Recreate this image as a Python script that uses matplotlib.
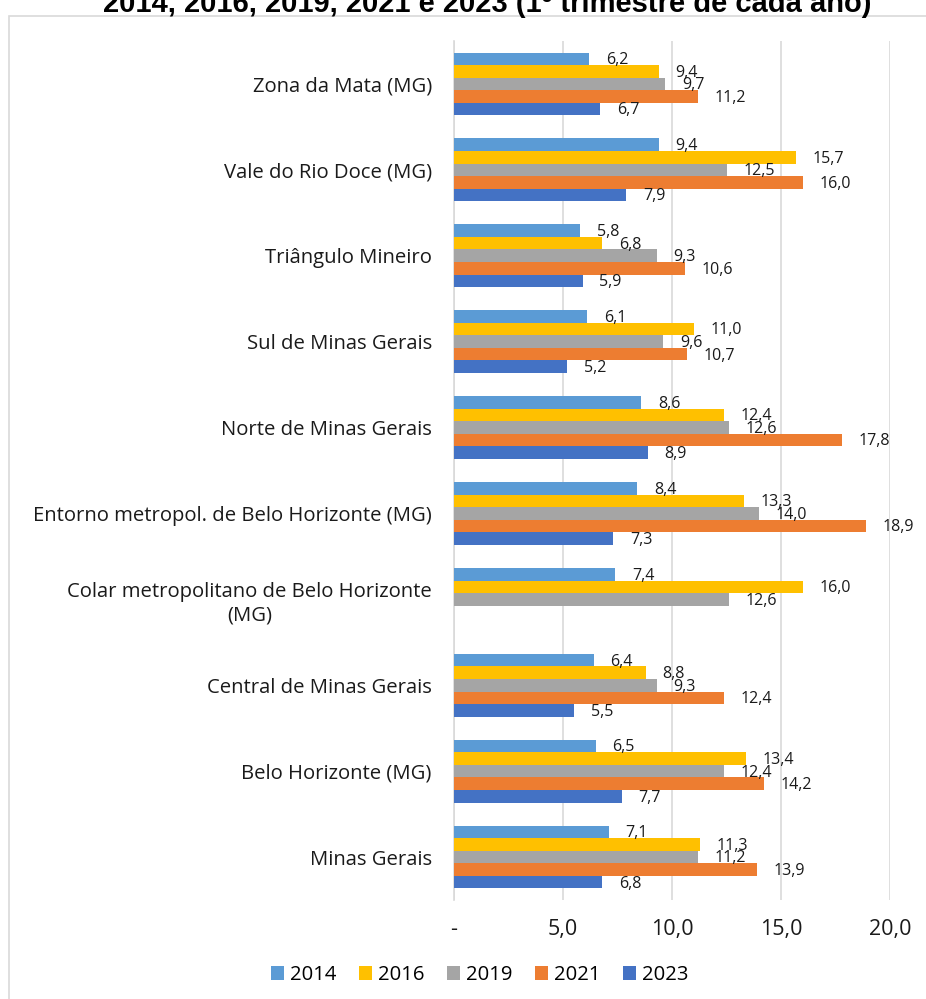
import numpy as np
import matplotlib
matplotlib.use("Agg")
import matplotlib.pyplot as plt
from matplotlib.patches import Patch, Rectangle

plt.rcParams["font.family"] = ["Open Sans", "DejaVu Sans"]

# data
categories = [
    "Zona da Mata (MG)",
    "Vale do Rio Doce (MG)",
    "Triângulo Mineiro",
    "Sul de Minas Gerais",
    "Norte de Minas Gerais",
    "Entorno metropol. de Belo Horizonte (MG)",
    "Colar metropolitano de Belo Horizonte\n(MG)",
    "Central de Minas Gerais",
    "Belo Horizonte (MG)",
    "Minas Gerais",
]
years = ["2014", "2016", "2019", "2021", "2023"]
v2014 = [6.2, 9.4, 5.8, 6.1, 8.6, 8.4, 7.4, 6.4, 6.5, 7.1]
v2016 = [9.4, 15.7, 6.8, 11.0, 12.4, 13.3, 16.0, 8.8, 13.4, 11.3]
v2019 = [9.7, 12.5, 9.3, 9.6, 12.6, 14.0, 12.6, 9.3, 12.4, 11.2]
v2021 = [11.2, 16.0, 10.6, 10.7, 17.8, 18.9, np.nan, 12.4, 14.2, 13.9]
v2023 = [6.7, 7.9, 5.9, 5.2, 8.9, 7.3, np.nan, 5.5, 7.7, 6.8]
series = [v2014, v2016, v2019, v2021, v2023]
colors = ["#5B9BD5", "#FFC000", "#A5A5A5", "#ED7D31", "#4472C4"]
xticks = [0, 5, 10, 15, 20]
xticklabels = ["-", "5,0", "10,0", "15,0", "20,0"]

W, H = 926, 999
fig = plt.figure(figsize=(W / 100, H / 100), dpi=100)

# chart area frame (runs off the right and bottom edges)
fig.patches.append(Rectangle((9 / W, -0.1), 1.2, 1 - 15.7 / H + 0.1,
                             transform=fig.transFigure, fill=False,
                             edgecolor="#D9D9D9", lw=1.2))

fig.text(487 / W, 1 - 12 / H,
         "2014, 2016, 2019, 2021 e 2023 (1º trimestre de cada ano)",
         ha="center", va="baseline", fontsize=21, fontweight="bold",
         family=["Liberation Sans", "DejaVu Sans"])

ax = fig.add_axes([454 / W, 1 - 900 / H, 436 / W, 859 / H])

y = np.arange(len(categories))
h = 0.146
for j, (vals, col) in enumerate(zip(series, colors)):
    vals = np.asarray(vals, dtype=float)
    pos = y + (j - 2) * h
    ax.barh(pos, vals, height=h, color=col, zorder=3)
    for yy, v in zip(pos, vals):
        if np.isnan(v):
            continue
        ax.annotate(f"{v:.1f}".replace(".", ","), (v, yy),
                    xytext=(12, -1), textcoords="offset points",
                    ha="left", va="center", fontsize=11.5, color="#1a1a1a",
                    zorder=4)

ax.set_ylim(len(categories) - 0.5, -0.5)
ax.set_xlim(0, 20)
ax.set_yticks(y)
ax.set_yticklabels(categories, fontsize=14.6, linespacing=1.25, color="#1a1a1a")
for lab in ax.get_yticklabels():
    lab.set_multialignment("center")
ax.set_xticks(xticks)
ax.set_xticklabels(xticklabels, fontsize=15.5, color="#1a1a1a")
ax.tick_params(axis="both", length=0)
ax.tick_params(axis="y", pad=16)
ax.tick_params(axis="x", pad=14)

ax.grid(axis="x", color="#D9D9D9", lw=1.2, zorder=0)
for side in ["top", "right", "bottom"]:
    ax.spines[side].set_visible(False)
ax.spines["left"].set_color("#D9D9D9")
ax.spines["left"].set_linewidth(1.2)

handles = [Patch(facecolor=c, edgecolor="none") for c in colors]
fig.legend(handles, years, loc="center", bbox_to_anchor=(480 / W, 1 - 975 / H),
           ncol=5, frameon=False, fontsize=14.6, handlelength=0.65,
           handleheight=0.65, handletextpad=0.3, columnspacing=1.1)

fig.savefig("out.png", dpi=100)
